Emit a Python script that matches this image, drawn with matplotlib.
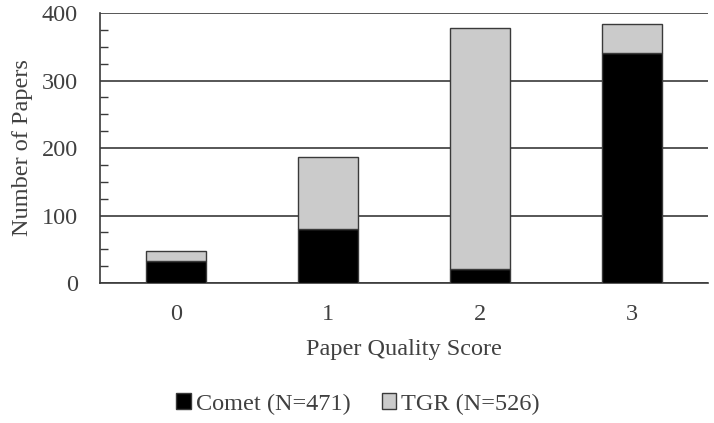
import numpy as np
import matplotlib
matplotlib.use("Agg")
from matplotlib import pyplot as plt
from matplotlib.ticker import MultipleLocator

# data
scores = ["0", "1", "2", "3"]
comet = [32, 80, 21, 341]
tgr = [15, 106, 357, 43]
series_names = ["Comet (N=471)", "TGR (N=526)"]

plt.rcParams['font.family'] = ['Liberation Serif', 'DejaVu Serif']
fs = 17.5
txt = '#404040'

fig = plt.figure(figsize=(7.14, 4.23), dpi=100)
ax = fig.add_axes([100 / 714, 1 - 283 / 423, 608 / 714, 270 / 423])

x = np.arange(len(scores))
edge = '#3a3a3a'
ax.bar(x, comet, width=0.4, color='black', edgecolor=edge, linewidth=1.0,
       label=series_names[0], zorder=3)
ax.bar(x, tgr, width=0.4, bottom=comet, color='#cbcbcb', edgecolor=edge,
       linewidth=1.0, label=series_names[1], zorder=3)

ax.set_xlim(-0.5, 3.5)
ax.set_ylim(0, 400)
ax.set_xticks(x)
ax.set_xticklabels(scores)
ax.yaxis.set_major_locator(MultipleLocator(100))
ax.yaxis.set_minor_locator(MultipleLocator(25))
ax.grid(axis='y', which='major', color='#3a3a3a', linewidth=1.2, zorder=0)

for s in ['right', 'top']:
    ax.spines[s].set_visible(False)
for s in ['left', 'bottom']:
    ax.spines[s].set_color('#3a3a3a')
    ax.spines[s].set_linewidth(1.2)

ax.tick_params(axis='x', length=0, labelsize=fs, pad=15, colors=txt)
ax.tick_params(axis='y', which='major', length=0, labelsize=fs, pad=16,
               colors=txt)
ax.tick_params(axis='y', which='minor', direction='in', length=6,
               width=1.0, color='#3a3a3a')

ax.set_xlabel("Paper Quality Score", fontsize=fs, color=txt, labelpad=10)
ax.set_ylabel("Number of Papers", fontsize=fs, color=txt, labelpad=6)

fig.legend(loc='center', bbox_to_anchor=(358 / 714, 1 - 404 / 423), ncol=2,
           frameon=False, fontsize=fs, handlelength=0.6, handleheight=0.6,
           handletextpad=0.2, columnspacing=1.3, labelcolor=txt)

fig.savefig("out.png", dpi=100)
